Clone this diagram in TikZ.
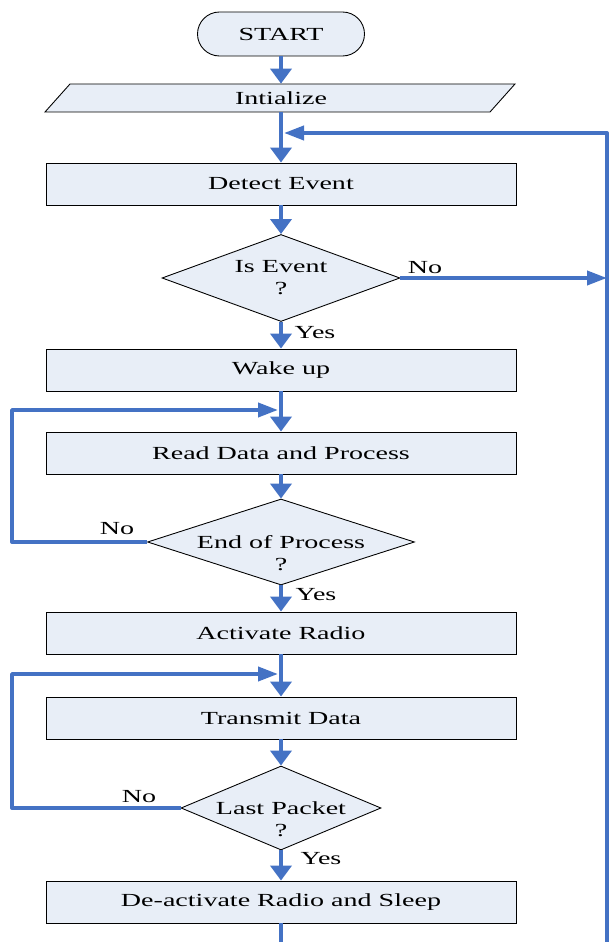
\documentclass[tikz,border=0pt]{standalone}
\usepackage{fontspec}
\setmainfont{Liberation Serif}[FakeStretch=1.52]
\usetikzlibrary{shapes.geometric, arrows.meta}

\definecolor{flowblue}{RGB}{68,114,196}
\definecolor{boxfill}{RGB}{232,238,247}

\begin{document}
\begin{tikzpicture}[font=\fontsize{10.5}{12.5}\selectfont]
\tikzset{ box/.style={draw=black, line width=0.5pt, fill=boxfill, minimum width=9.4cm, minimum height=0.84cm, inner sep=0pt},
  decision/.style={draw=black, line width=0.5pt, fill=boxfill, shape=diamond, inner sep=0pt},
  flow/.style={flowblue, line width=2.8pt, -{Triangle[width=0.42cm, length=0.3cm]}},
  backflow/.style={flowblue, line width=2.2pt, line join=round, -{Triangle[width=0.28cm, length=0.4cm]}},
}

\useasboundingbox (0,0) rectangle (12.18,18.84);

%\draw [lightgray, dashed](0,0) grid (12,18);

% input box
\draw [draw=black, line width=0.5pt, fill=boxfill] (0.90,16.60) -- (9.80,16.60) -- (10.30,17.16) -- (1.40,17.16) -- cycle;

\node [box, rounded corners=0.44cm, minimum width=3.34cm, minimum height=0.88cm] (st) at (5.62,18.16) {START};
\node [minimum width=9.4cm, minimum height=0.56cm, inner sep=0pt] (ini) at (5.62,16.88) {Intialize};
\node [box] (det) at (5.62,15.16) {Detect Event};
\node [decision, minimum width=4.76cm, minimum height=1.74cm] (ie) at (5.62,13.28) {};
\node [box] (wk) at (5.62,11.44) {Wake up};
\node [box] (rd) at (5.62,9.78) {Read Data and Process};
\node [decision, minimum width=5.34cm, minimum height=1.72cm] (ep) at (5.62,8.00) {};
\node [box] (ar) at (5.62,6.18) {Activate Radio};
\node [box] (td) at (5.62,4.48) {Transmit Data};
\node [decision, minimum width=4.0cm, minimum height=1.68cm] (lp) at (5.62,2.68) {};
\node [box] (dr) at (5.62,0.80) {De-activate Radio and Sleep};

\node [align=center] (ie-t) at (ie) {Is Event\\?};
\node [align=center] (ep-t) at (5.62,7.78) {End of Process\\?};
\node [align=center] (lp-t) at (5.62,2.46) {Last Packet\\?};

\node (no1) at (8.50,13.48) {No};
\node (yes1) at (6.30,12.18) {Yes};
\node (no2) at (2.34,8.26) {No};
\node (yes2) at (6.32,6.94) {Yes};
\node (no3) at (2.78,2.90) {No};
\node (yes3) at (6.42,1.66) {Yes};

\coordinate (rb) at (12.14,0);
\coordinate (rt) at (12.14,16.18);
\coordinate (j0) at (5.68,16.18);
\coordinate (l1) at (0.24,10.64);
\coordinate (j1) at (5.56,10.64);
\coordinate (l2) at (0.24,5.36);
\coordinate (j2) at (5.56,5.36);
\coordinate (bt) at (5.62,0);

\draw [flow] (st) -- (ini);
\draw [flow] (ini) -- (det);
\draw [flow] (det) -- (ie);
\draw [flow] (ie) -- (wk);
\draw [flow] (wk) -- (rd);
\draw [flow] (rd) -- (ep);
\draw [flow] (ep) -- (ar);
\draw [flow] (ar) -- (td);
\draw [flow] (td) -- (lp);
\draw [flow] (lp) -- (dr);
\draw [flow, -] (dr) -- (bt);

\draw [backflow] (ie.east) -- (ie.east -| rb);
\draw [backflow] (rb) -- (rt) -- (j0);
\draw [backflow] (ep.west) -- (ep.west -| l1) -- (l1) -- (j1);
\draw [backflow] (lp.west) -- (lp.west -| l2) -- (l2) -- (j2);

\end{tikzpicture}
\end{document}
